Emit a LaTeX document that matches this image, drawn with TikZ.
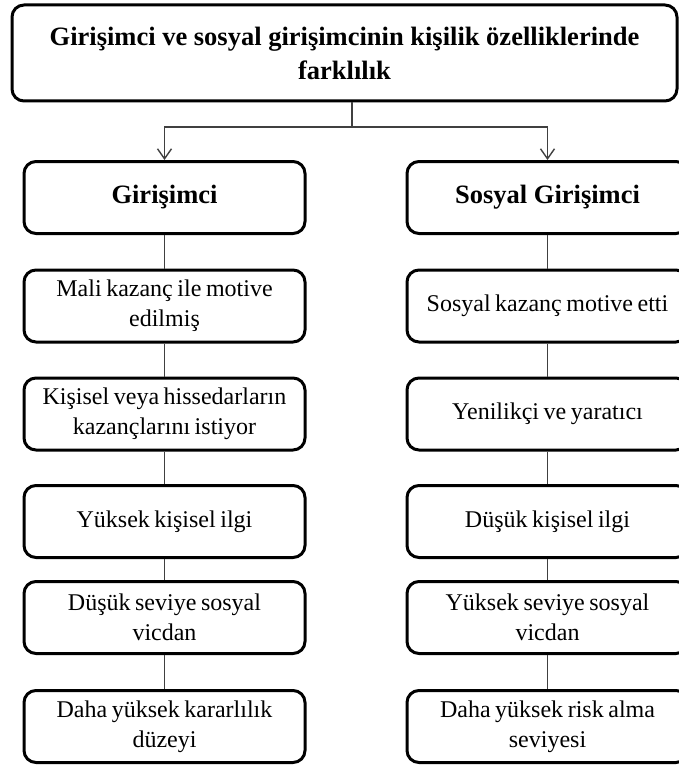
\documentclass[tikz,border=0pt]{standalone}
\usepackage{fontspec}
\setmainfont{Liberation Serif}
\usetikzlibrary{arrows.meta}
% narrow inter-word gaps for the body text, normal gaps for the headings
\newcommand\tightwords{\spaceskip=0.19em plus 0.04em\relax}
\newcommand\normalwords{\spaceskip=0pt\relax}
\tikzset{
  box/.style={draw=black, line width=3pt, rounded corners=12pt, align=flush center,
    inner sep=2pt, text width=275pt, minimum width=281pt, minimum height=72pt,
    font=\fontsize{24}{30}\selectfont, execute at begin node=\tightwords},
  headbox/.style={box, font=\bfseries\fontsize{26.5}{34}\selectfont,
    execute at begin node=\normalwords},
  link/.style={draw=black!75, line width=1.4pt},
  arrowlink/.style={link, -{Straight Barb[length=10pt,width=14pt,line width=1.4pt]}}
}
\begin{document}
\begin{tikzpicture}[x=1pt,y=-1pt]
\useasboundingbox (0,0) rectangle (679,765);

% title
\node[headbox, minimum width=665pt, minimum height=96pt, text width=650pt] (top) at (344.5,53)
  {Girişimci ve sosyal girişimcinin kişilik özelliklerinde\\farklılık};

% left column
\node[headbox] (l0) at (164.5,197.5) {Girişimci};
\node[box] (l1) at (164.5,306)   {Mali kazanç ile motive\\edilmiş};
\node[box] (l2) at (164.5,414)   {Kişisel veya hissedarların\\kazançlarını istiyor};
\node[box] (l3) at (164.5,521.5) {Yüksek kişisel ilgi};
\node[box] (l4) at (164.5,617.5) {Düşük seviye sosyal\\vicdan};
\node[box] (l5) at (164.5,726.5) {Daha yüksek kararlılık\\düzeyi};

% right column
\node[headbox] (r0) at (547.5,197.5) {Sosyal Girişimci};
\node[box] (r1) at (547.5,306)   {Sosyal kazanç motive etti};
\node[box] (r2) at (547.5,414)   {Yenilikçi ve yaratıcı};
\node[box] (r3) at (547.5,521.5) {Düşük kişisel ilgi};
\node[box] (r4) at (547.5,617.5) {Yüksek seviye sosyal\\vicdan};
\node[box] (r5) at (547.5,726.5) {Daha yüksek risk alma\\seviyesi};

% branching from the title
\coordinate (j) at (352,127);
\draw[link] ([xshift=7.5pt]top.south) -- (j);
\draw[arrowlink] (j) -| (l0.north);
\draw[arrowlink] (j) -| (r0.north);

% vertical chains
\foreach \a/\b in {l0/l1, l1/l2, l2/l3, l3/l4, l4/l5, r0/r1, r1/r2, r2/r3, r3/r4, r4/r5}
  \draw[link] (\a.south) -- (\b.north);
\end{tikzpicture}
\end{document}
